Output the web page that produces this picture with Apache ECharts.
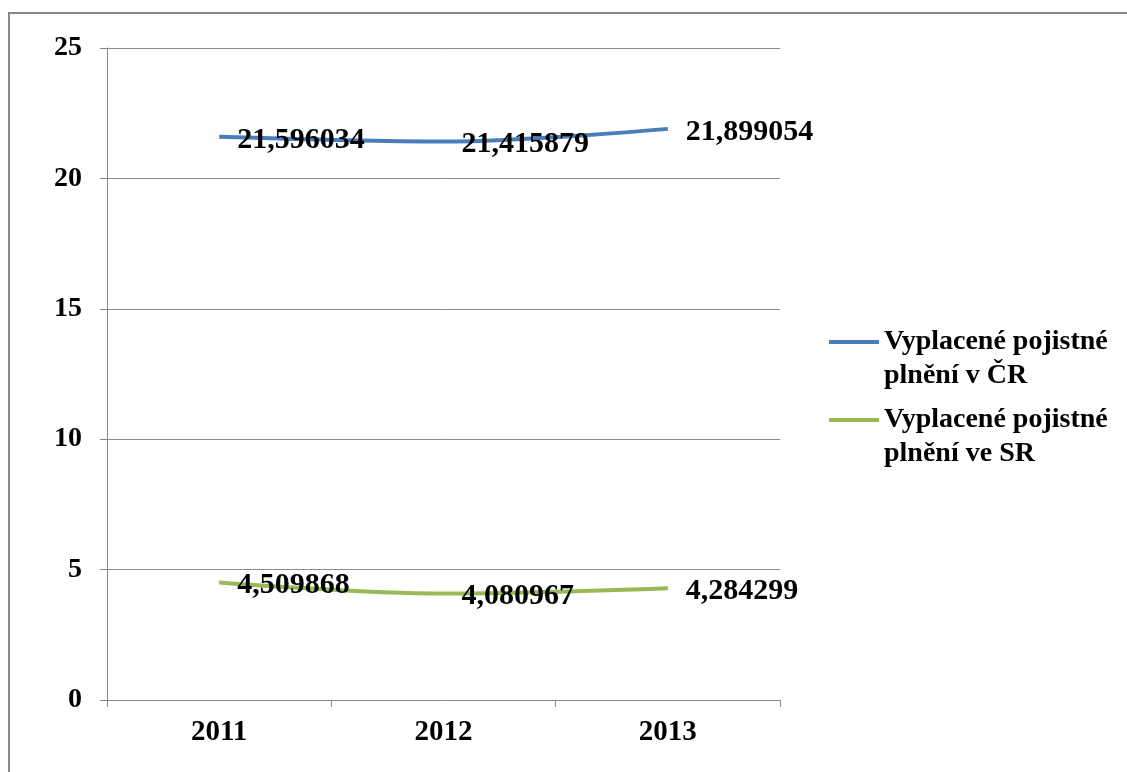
<!DOCTYPE html>
<html>
<head>
<meta charset="utf-8">
<script src="https://cdn.jsdelivr.net/npm/echarts@6/dist/echarts.min.js"></script>
<style>
  html, body { margin: 0; padding: 0; background: #ffffff; }
  #chart { width: 1127px; height: 772px; }
</style>
</head>
<body>
<div id="chart"></div>
<script>
// Paid insurance claims, Czech Republic vs. Slovakia
const years = ['2011', '2012', '2013'];
const seriesNames = ['Vyplacené pojistné plnění v ČR', 'Vyplacené pojistné plnění ve SR'];
const claimsCR = [21.596034, 21.415879, 21.899054];
const claimsSR = [4.509868, 4.080967, 4.284299];
const yTicks = { min: 0, max: 25, interval: 5 };

const colors = ['#4a7ebb', '#98b954'];
const FONT = '"Liberation Serif", "Times New Roman", serif';

const chart = echarts.init(document.getElementById('chart'));

function decimalComma(v) {
  return String(v).replace('.', ',');
}

function lineSeries(name, data, color) {
  return {
    name: name,
    type: 'line',
    data: data,
    smooth: 0.35,
    symbol: 'circle',
    symbolSize: 2,
    showSymbol: true,
    itemStyle: { color: 'rgba(0,0,0,0)', borderWidth: 0 },
    lineStyle: { color: color, width: 4 },
    label: {
      show: true,
      position: 'right',
      distance: 17,
      offset: [0, 3],
      color: '#000',
      fontFamily: FONT,
      fontWeight: 'bold',
      fontSize: 30,
      formatter: p => decimalComma(p.value)
    }
  };
}

// One legend block per series; the leading empty line keeps the icon
// level with the first line of the wrapped name.
function legendFor(name, color, top) {
  return {
    data: [{ name: name, icon: 'rect', itemStyle: { color: color, opacity: 1 } }],
    left: 829,
    top: top,
    padding: 0,
    itemWidth: 50,
    itemHeight: 4,
    selectedMode: false,
    formatter: n => '\n' + n.replace('pojistné ', 'pojistné\n'),
    textStyle: {
      fontFamily: FONT,
      fontWeight: 'bold',
      fontSize: 28,
      color: '#000',
      lineHeight: 34
    }
  };
}

chart.setOption({
  animation: false,
  color: colors,
  graphic: [{
    type: 'rect',
    shape: { x: 9, y: 13, width: 1400, height: 1000 },
    style: { fill: 'none', stroke: '#878787', lineWidth: 2 },
    silent: true
  }],
  legend: [legendFor(seriesNames[0], colors[0], 291), legendFor(seriesNames[1], colors[1], 369)],
  grid: { left: 107, right: 347, top: 48, bottom: 72, containLabel: false },
  xAxis: {
    type: 'category',
    data: years,
    boundaryGap: true,
    axisLine: { show: true, lineStyle: { color: '#868686', width: 1 } },
    axisTick: { show: true, length: 7, lineStyle: { color: '#868686' } },
    axisLabel: {
      margin: 18,
      color: '#000',
      fontFamily: FONT,
      fontWeight: 'bold',
      fontSize: 29
    },
    splitLine: { show: false }
  },
  yAxis: {
    type: 'value',
    min: yTicks.min,
    max: yTicks.max,
    interval: yTicks.interval,
    axisLine: { show: true, lineStyle: { color: '#868686', width: 1 } },
    axisTick: { show: true, length: 7, lineStyle: { color: '#868686' } },
    axisLabel: {
      margin: 25,
      color: '#000',
      fontFamily: FONT,
      fontWeight: 'bold',
      fontSize: 28
    },
    splitLine: { show: true, lineStyle: { color: '#8c8c8c', width: 1 } }
  },
  series: [
    lineSeries(seriesNames[0], claimsCR, colors[0]),
    lineSeries(seriesNames[1], claimsSR, colors[1])
  ]
});
</script>
</body>
</html>
